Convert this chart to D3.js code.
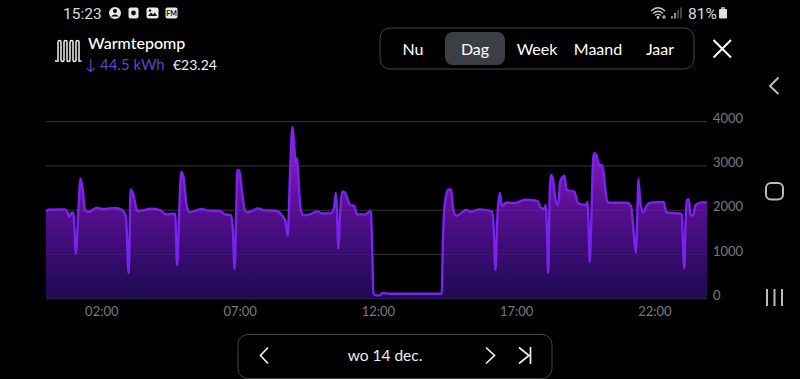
<!DOCTYPE html>
<html>
<head>
<meta charset="utf-8">
<script src="https://cdn.jsdelivr.net/npm/d3@7"></script>
<style>
    html, body { margin: 0; padding: 0; background: #000; overflow: hidden; }
    text { font-family: Lato, sans-serif; }
</style>
</head>
<body>
<div id="chart"></div>
<script>
// hours since midnight
const hours = [
    0, 0.08, 0.69, 0.77, 0.84, 0.93, 0.99, 1.08, 1.17, 1.25, 1.33, 1.41, 1.53, 1.65, 1.83, 2.07, 2.5, 2.74, 2.89, 2.99,
    3.06, 3.16, 3.3, 3.46, 3.82, 4.12, 4.34, 4.67, 4.74, 4.82, 4.89, 4.97, 5.09, 5.21, 5.63, 5.81, 6.29, 6.47, 6.68, 6.75,
    6.82, 6.88, 6.92, 6.99, 7.08, 7.19, 7.28, 7.44, 7.68, 7.86, 8.28, 8.52, 8.66, 8.74, 8.82, 8.91, 8.97, 9.02, 9.08, 9.13,
    9.21, 9.31, 9.55, 9.81, 9.97, 10.3, 10.42, 10.48, 10.52, 10.57, 10.64, 10.71, 10.78, 11, 11.15, 11.24, 11.54, 11.74, 11.79, 11.84,
    11.93, 12.08, 12.16, 12.44, 14.31, 14.35, 14.39, 14.47, 14.55, 14.65, 14.71, 14.83, 14.97, 15.19, 15.36, 15.67, 16.12, 16.18, 16.25, 16.32,
    16.41, 16.48, 16.64, 16.96, 17.32, 17.77, 17.89, 18.01, 18.07, 18.11, 18.16, 18.2, 18.25, 18.33, 18.41, 18.52, 18.59, 18.74, 18.83, 19.1,
    19.24, 19.53, 19.58, 19.62, 19.66, 19.71, 19.8, 19.87, 20.01, 20.1, 20.3, 20.4, 21, 21.16, 21.24, 21.33, 21.39, 21.42, 21.48, 21.58,
    21.75, 21.85, 22.33, 22.43, 22.81, 22.99, 23.03, 23.08, 23.12, 23.17, 23.25, 23.29, 23.39, 23.49, 23.72, 23.9
];
// watts at those hours
const watts = [
    1966, 2011, 2019, 1966, 1853, 1944, 1944, 1024, 2004, 2712, 2456, 2004, 1966, 1989, 2057, 2026, 2049, 2004, 1853, 573,
    2471, 2343, 1981, 1989, 2034, 2004, 1906, 1921, 753, 2004, 2863, 2757, 2079, 1951, 2026, 1996, 1981, 1906, 1891, 1627,
    663, 2004, 2908, 2893, 2456, 2004, 1951, 1981, 2041, 1996, 1989, 1891, 1740, 1424, 2757, 3887, 3510, 3096, 3171, 2682,
    2004, 1883, 1906, 1974, 1928, 1928, 2079, 2396, 2004, 1137, 2004, 2418, 2418, 2117, 2094, 1906, 1906, 1981, 1250, 120,
    75, 75, 128, 113, 113, 1250, 1928, 2343, 2471, 2471, 2079, 1876, 1913, 2004, 1966, 2019, 1974, 1702, 648, 1853,
    2396, 2094, 2170, 2162, 2237, 2207, 2057, 2026, 2117, 1627, 573, 2004, 2795, 2720, 2267, 2117, 2644, 2780, 2456, 2418,
    2154, 2117, 2192, 1627, 836, 1627, 3284, 3284, 3021, 3021, 2192, 2170, 2170, 2079, 1552, 1040, 2154, 2720, 2230, 1951,
    2132, 2170, 2185, 1951, 1928, 1913, 1250, 686, 1627, 2230, 2245, 1928, 1868, 2117, 2177, 2177
];
const xTicks = [2, 7, 12, 17, 22];
const yTicks = [0, 1000, 2000, 3000, 4000];
const periods = ["Nu", "Dag", "Week", "Maand", "Jaar"];
const periodCenters = [413, 475, 537, 598, 660];

const svg = d3.select("#chart").append("svg")
    .attr("width", 800)
    .attr("height", 379)
    .style("display", "block")
    .style("background", "#000");

const x = d3.scaleLinear().domain([0, 23.9]).range([46, 707]);
const y = d3.scaleLinear().domain([0, 4000]).range([298.7, 121.7]);

const points = hours.map((h, i) => ({hour: h, value: watts[i]}));

// fill gets brighter with height
const defs = svg.append("defs");
const grad = defs.append("linearGradient")
    .attr("id", "areaFill")
    .attr("gradientUnits", "userSpaceOnUse")
    .attr("x1", 0).attr("x2", 0)
    .attr("y1", y(0)).attr("y2", y(4000));
grad.append("stop").attr("offset", "0%").attr("stop-color", "#1e0a50");
grad.append("stop").attr("offset", "25%").attr("stop-color", "#380c70");
grad.append("stop").attr("offset", "50%").attr("stop-color", "#560f8e");
grad.append("stop").attr("offset", "100%").attr("stop-color", "#9a20de");

const area = d3.area().x(d => x(d.hour)).y0(y(0)).y1(d => y(d.value)).curve(d3.curveMonotoneX);
const line = d3.line().x(d => x(d.hour)).y(d => y(d.value)).curve(d3.curveMonotoneX);

function gridLines(color, opacity) {
    svg.append("g").selectAll("line")
        .data(yTicks)
        .enter().append("line")
        .attr("x1", x.range()[0])
        .attr("x2", x.range()[1])
        .attr("y1", d => y(d))
        .attr("y2", d => y(d))
        .attr("stroke", color)
        .attr("stroke-opacity", opacity);
}

// grid shows clearly on black, only faintly through the fill
gridLines("#2c2c2c", 1);
svg.append("path").datum(points).attr("d", area).attr("fill", "url(#areaFill)");
gridLines("#fff", 0.06);

svg.append("path").datum(points)
    .attr("d", line)
    .attr("fill", "none")
    .attr("stroke", "#7a22f0")
    .attr("stroke-width", 2.4)
    .attr("stroke-linejoin", "round");

// axes
const yAxis = svg.append("g")
    .attr("transform", "translate(713,-3.5)")
    .call(d3.axisRight(y).tickValues(yTicks).tickSize(0).tickPadding(0).tickFormat(d => d));
yAxis.select(".domain").remove();
yAxis.selectAll("text").style("font-size", "13px").style("font-family", "Lato, sans-serif").attr("fill", "#7a7a7a");

const xAxis = svg.append("g")
    .attr("transform", "translate(0,307)")
    .call(d3.axisBottom(x).tickValues(xTicks).tickSize(0).tickPadding(0)
        .tickFormat(d => String(d).padStart(2, "0") + ":00"));
xAxis.select(".domain").remove();
xAxis.selectAll("text").style("font-size", "13px").style("font-family", "Lato, sans-serif").attr("fill", "#7a7a7a");

// status bar
svg.append("text").attr("x", 63).attr("y", 18.5).attr("fill", "#ddd")
    .style("font-family", "Roboto").style("font-size", "15.5px").text("15:23");

const statusIcons = svg.append("g").attr("fill", "#e8e8e8");
statusIcons.append("circle").attr("cx", 115).attr("cy", 13).attr("r", 6);
statusIcons.append("circle").attr("cx", 115).attr("cy", 11).attr("r", 2).attr("fill", "#000");
statusIcons.append("path").attr("d", "M111 16.5 Q115 12.5 119 16.5 Z").attr("fill", "#000");
[[128.5, 10], [146.5, 12], [165.5, 12]].forEach(d => {
    statusIcons.append("rect").attr("x", d[0]).attr("y", 7.5).attr("width", d[1]).attr("height", 11).attr("rx", 2);
});
statusIcons.append("circle").attr("cx", 133.5).attr("cy", 13).attr("r", 2.4).attr("fill", "#111");
statusIcons.append("path").attr("d", "M148 16 L151 12.5 L153 14.5 L155 12.5 L157 16 Z").attr("fill", "#111");
statusIcons.append("circle").attr("cx", 150).attr("cy", 10.5).attr("r", 1.2).attr("fill", "#111");
statusIcons.append("text").attr("x", 171.5).attr("y", 15.5).attr("text-anchor", "middle")
    .attr("fill", "#111").style("font-size", "7px").style("font-weight", 700).text("FM");

const wifi = svg.append("g").attr("fill", "none").attr("stroke", "#ccc").attr("stroke-width", 1.2);
wifi.append("path").attr("d", "M651 11 Q658 4.5 665 11");
wifi.append("path").attr("d", "M653 13.5 Q658 9 663 13.5");
wifi.append("path").attr("d", "M655 15.5 Q658 13 661 15.5");
wifi.append("circle").attr("cx", 658).attr("cy", 17.5).attr("r", 0.8).attr("fill", "#ccc");
wifi.append("path").attr("d", "M664 15 V19 M662 17 H666");
const bars = svg.append("g").attr("stroke-width", 1.3);
[[672, 16, "#ddd"], [675, 13, "#ddd"], [678, 10, "#666"], [681, 7.5, "#666"]].forEach(d => {
    bars.append("line").attr("x1", d[0]).attr("x2", d[0]).attr("y1", d[1]).attr("y2", 18.5).attr("stroke", d[2]);
});
svg.append("text").attr("x", 688).attr("y", 18.5).attr("fill", "#ddd")
    .style("font-family", "Roboto").style("font-size", "15.5px").text("81%");
svg.append("rect").attr("x", 719).attr("y", 9).attr("width", 8).attr("height", 9.5).attr("rx", 1).attr("fill", "#ddd");
svg.append("rect").attr("x", 721).attr("y", 7).attr("width", 4).attr("height", 2).attr("fill", "#999");

// header
svg.append("path")
    .attr("d", "M55 61 H58 V42 Q58 40.5 59.5 40.5 Q61 40.5 61 42 V60 Q61 61.5 62.5 61.5 Q64 61.5 64 60 V42 Q64 40.5 65.5 40.5 Q67 40.5 67 42 V60 Q67 61.5 68.5 61.5 Q70 61.5 70 60 V42 Q70 40.5 71.5 40.5 Q73 40.5 73 42 V60 Q73 61.5 74.5 61.5 Q76 61.5 76 60 V42 Q76 40.5 77.5 40.5 Q79 40.5 79 42 V61 H81.5")
    .attr("fill", "none").attr("stroke", "#eee").attr("stroke-width", 1.5);
svg.append("text").attr("x", 88).attr("y", 49).attr("fill", "#fff")
    .style("font-size", "16px").style("font-weight", 500).text("Warmtepomp");
svg.append("text").attr("x", 85).attr("y", 70).attr("fill", "#5a48cc")
    .style("font-size", "15px").text("↓ 44.5 kWh");
svg.append("text").attr("x", 173).attr("y", 69.5).attr("fill", "#f0f0f0")
    .style("font-size", "14px").text("€23.24");

svg.append("rect").attr("x", 380).attr("y", 28).attr("width", 314).attr("height", 41).attr("rx", 10)
    .attr("fill", "none").attr("stroke", "#444");
svg.append("rect").attr("x", 445).attr("y", 32).attr("width", 60).attr("height", 33).attr("rx", 8).attr("fill", "#3b3f43");
svg.append("g").selectAll("text")
    .data(periods)
    .enter().append("text")
    .attr("x", (d, i) => periodCenters[i])
    .attr("y", 55)
    .attr("text-anchor", "middle")
    .attr("fill", "#fff")
    .style("font-size", "16px")
    .text(d => d);
svg.append("path").attr("d", "M713.5 40 L731 57.5 M731 40 L713.5 57.5")
    .attr("stroke", "#fff").attr("stroke-width", 2).attr("fill", "none");

// date selector
svg.append("rect").attr("x", 238).attr("y", 334.5).attr("width", 314).attr("height", 44).attr("rx", 10)
    .attr("fill", "none").attr("stroke", "#444");
svg.append("text").attr("x", 385).attr("y", 361).attr("text-anchor", "middle").attr("fill", "#eee")
    .style("font-size", "15.5px").text("wo 14 dec.");
svg.append("path")
    .attr("d", "M268 347.5 L260.5 355.5 L268 363.5 M486 347.5 L494.5 355.5 L486 363.5 M519 347.5 L529 355.5 L519 363.5 M530.5 347 V364")
    .attr("fill", "none").attr("stroke", "#eee").attr("stroke-width", 1.7);

// android nav buttons
const nav = svg.append("g").attr("fill", "none").attr("stroke", "#bbb").attr("stroke-width", 2);
nav.append("path").attr("d", "M778.5 77.5 L770 86 L778.5 94");
nav.append("rect").attr("x", 766).attr("y", 183).attr("width", 17).attr("height", 16.5).attr("rx", 5);
nav.append("path").attr("d", "M767 289 V306 M774.5 289 V306 M782 289 V306");
</script>
</body>
</html>
